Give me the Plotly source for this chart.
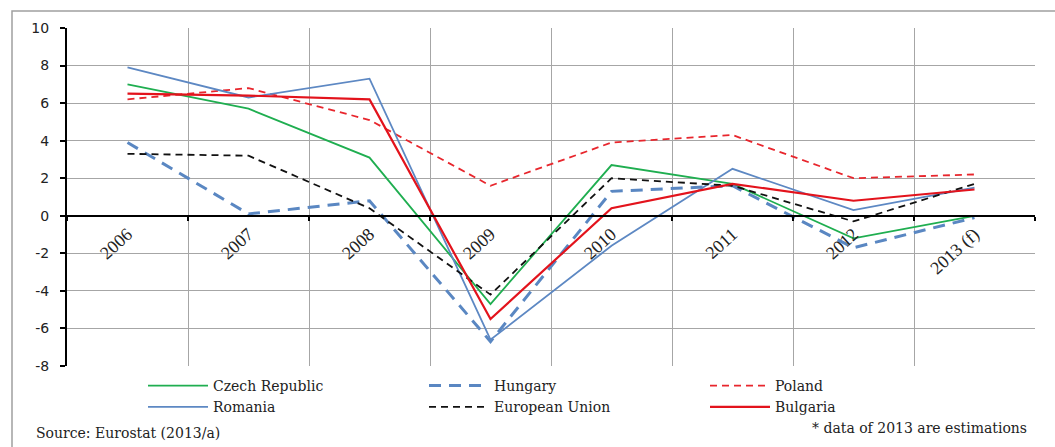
import plotly.graph_objects as go

# Real GDP growth rate, % change on previous year
years = ["2006", "2007", "2008", "2009", "2010", "2011", "2012", "2013 (f)"]

czech_republic = [7.0, 5.7, 3.1, -4.7, 2.7, 1.7, -1.2, 0.0]
hungary = [3.9, 0.1, 0.8, -6.7, 1.3, 1.6, -1.7, -0.1]
poland = [6.2, 6.8, 5.1, 1.6, 3.9, 4.3, 2.0, 2.2]
romania = [7.9, 6.3, 7.3, -6.6, -1.6, 2.5, 0.3, 1.5]
european_union = [3.3, 3.2, 0.4, -4.2, 2.0, 1.6, -0.3, 1.7]
bulgaria = [6.5, 6.4, 6.2, -5.5, 0.4, 1.7, 0.8, 1.4]

y_ticks = [-8, -6, -4, -2, 0, 2, 4, 6, 8, 10]
y_tick_labels = ["-8", "-6", "-4", "-2", "0", "2", "4", "6", "8", "10"]

W, H = 1055, 447
ML, MR, MT, MB = 67, 20, 28, 81
PW, PH = W - ML - MR, H - MT - MB

SERIF = "Liberation Serif"
LEG_FONT = "DejaVu Serif"
SANS = "DejaVu Sans"
GRID = "#a6a6a6"

series = [
    ("Czech Republic", czech_republic, "#1fae50", "solid", 1.8),
    ("Hungary", hungary, "#5a87c2", "12px,8px", 3.0),
    ("Poland", poland, "#e8262d", "7px,5px", 1.8),
    ("Romania", romania, "#5d88c3", "solid", 1.8),
    ("European Union", european_union, "#111111", "7px,5px", 1.8),
    ("Bulgaria", bulgaria, "#e3131c", "solid", 2.2),
]

fig = go.Figure()
for name, vals, color, dash, width in series:
    fig.add_trace(go.Scatter(
        x=years, y=vals, name=name, mode="lines",
        line=dict(color=color, dash=dash, width=width),
    ))


def px_x(p):
    return (p - ML) / PW


def px_y(p):
    return (H - MB - p) / PH


y_min, y_max = min(y_ticks), max(y_ticks)

fig.update_layout(
    width=W, height=H,
    margin=dict(l=ML, r=MR, t=MT, b=MB),
    paper_bgcolor="white", plot_bgcolor="white",
    showlegend=True,
    legend=dict(
        orientation="h", x=px_x(143), y=px_y(370), xanchor="left", yanchor="top",
        font=dict(family=LEG_FONT, size=14, color="#222222"),
        itemwidth=60, entrywidth=206, entrywidthmode="pixels",
        traceorder="normal", bgcolor="rgba(0,0,0,0)",
    ),
    xaxis=dict(
        type="category", range=[-0.5, len(years) - 0.5],
        anchor="free", position=(0 - y_min) / (y_max - y_min),
        showline=True, linecolor="black", linewidth=2,
        tickson="boundaries", ticks="outside", ticklen=4, tickcolor="black", tickwidth=1.5,
        showgrid=True, gridcolor=GRID, gridwidth=1.3,
        tickangle=-42, tickfont=dict(family=SERIF, size=18, color="#222222"),
    ),
    yaxis=dict(
        range=[y_min, y_max], tickvals=y_ticks, ticktext=y_tick_labels,
        showline=True, linecolor="black", linewidth=2,
        ticks="outside", ticklen=5, tickcolor="black", tickwidth=1.5,
        ticklabelstandoff=8,
        showgrid=True, gridcolor=GRID, gridwidth=1.3, zeroline=False,
        tickfont=dict(family=SANS, size=14, color="#222222"),
    ),
    shapes=[
        dict(type="rect", xref="paper", yref="paper",
             x0=px_x(12), x1=px_x(1075), y0=px_y(460), y1=px_y(11),
             line=dict(color="#a0a0a0", width=1.5), layer="below"),
    ],
    annotations=[
        dict(text="Source: Eurostat (2013/a)", xref="paper", yref="paper",
             x=px_x(34), y=px_y(433), xanchor="left", yanchor="middle",
             showarrow=False, font=dict(family=LEG_FONT, size=14, color="#222222")),
        dict(text="* data of 2013 are estimations", xref="paper", yref="paper",
             x=px_x(1029), y=px_y(428), xanchor="right", yanchor="middle",
             showarrow=False, font=dict(family=LEG_FONT, size=14, color="#222222")),
    ],
)

fig.write_html("out.html")
